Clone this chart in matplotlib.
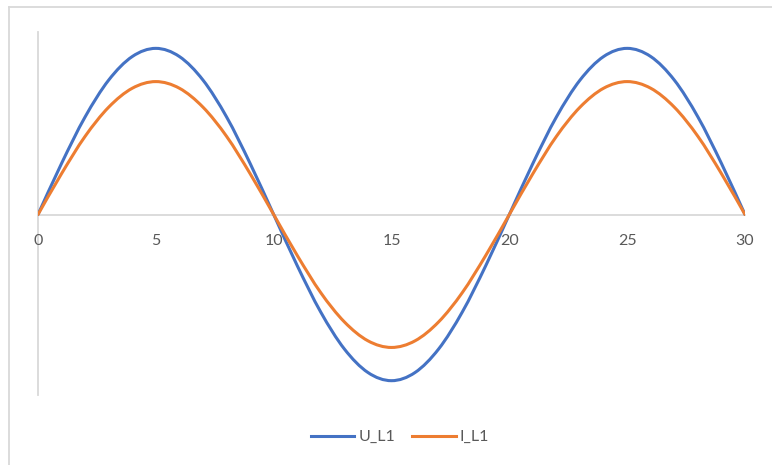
import matplotlib
matplotlib.use("Agg")
import matplotlib.pyplot as plt
from matplotlib.lines import Line2D
from matplotlib.path import Path
from matplotlib.patches import PathPatch

# Sample points (time index) and the two phase-L1 waveforms
t = list(range(31))
u_l1 = [0, 100, 191, 263, 309, 325, 309, 263, 191, 100,
        0, -100, -191, -263, -309, -325, -309, -263, -191, -100,
        0, 100, 191, 263, 309, 325, 309, 263, 191, 100, 0]
i_l1 = [0, 80, 153, 210, 247, 260, 247, 210, 153, 80,
        0, -80, -153, -210, -247, -260, -247, -210, -153, -80,
        0, 80, 153, 210, 247, 260, 247, 210, 153, 80, 0]
x_ticks = [0, 5, 10, 15, 20, 25, 30]

BLUE = "#4472C4"
ORANGE = "#ED7D31"
GRID = "#D9D9D9"
TEXT = "#595959"
FONT = ["Lato", "DejaVu Sans"]


def smooth_path(xs, ys):
    """Smoothed line through the points, as cubic Bezier segments
    (Catmull-Rom style tangents, like a spreadsheet 'smoothed line')."""
    pts = list(zip(xs, ys))
    n = len(pts)
    verts = [pts[0]]
    codes = [Path.MOVETO]
    for i in range(n - 1):
        p0 = pts[i - 1] if i > 0 else pts[i]
        p1 = pts[i]
        p2 = pts[i + 1]
        p3 = pts[i + 2] if i + 2 < n else pts[i + 1]
        c1 = (p1[0] + (p2[0] - p0[0]) / 6, p1[1] + (p2[1] - p0[1]) / 6)
        c2 = (p2[0] - (p3[0] - p1[0]) / 6, p2[1] - (p3[1] - p1[1]) / 6)
        verts += [c1, c2, p2]
        codes += [Path.CURVE4] * 3
    return Path(verts, codes)


W, H = 772, 465
fig = plt.figure(figsize=(W / 100, H / 100), dpi=100)
fig.patch.set_facecolor("white")

# chart-area frame (top and left edges)
fig.add_artist(Line2D([8.5 / W, 1.0], [1 - 7.5 / H, 1 - 7.5 / H],
                      transform=fig.transFigure, color=GRID, lw=1.3))
fig.add_artist(Line2D([8.5 / W, 8.5 / W], [0.0, 1 - 7.5 / H],
                      transform=fig.transFigure, color=GRID, lw=1.3))

left, right = 38 / W, 745 / W
bottom, top = 1 - 395 / H, 1 - 32 / H
ax = fig.add_axes([left, bottom, right - left, top - bottom])
ax.set_facecolor("none")

for ys, col in ((u_l1, BLUE), (i_l1, ORANGE)):
    ax.add_patch(PathPatch(smooth_path(t, ys), facecolor="none",
                           edgecolor=col, lw=2.2, joinstyle="round",
                           capstyle="round", zorder=3))

ax.set_xlim(0, 30)
ax.set_ylim(-353, 357)

for side in ("top", "right"):
    ax.spines[side].set_visible(False)
ax.spines["bottom"].set_position(("data", 0))
ax.spines["left"].set_position(("data", 0))
for side in ("bottom", "left"):
    ax.spines[side].set_color(GRID)
    ax.spines[side].set_linewidth(1.3)
    ax.spines[side].set_zorder(1)

ax.set_xticks(x_ticks)
ax.set_xticklabels([str(v) for v in x_ticks], color=TEXT,
                   fontsize=11.5, family=FONT)
ax.tick_params(axis="x", length=0, pad=14)
ax.set_yticks([])

handles = [Line2D([], [], color=BLUE, lw=2.2, label="U_L1"),
           Line2D([], [], color=ORANGE, lw=2.2, label="I_L1")]
leg = fig.legend(handles=handles, loc="center",
                 bbox_to_anchor=(400 / W, 1 - 437 / H),
                 ncol=2, frameon=False, handlelength=2.7,
                 handletextpad=0.25, columnspacing=1.1,
                 prop={"family": FONT, "size": 11.5})
for txt in leg.get_texts():
    txt.set_color(TEXT)

fig.savefig("out.png", dpi=100)
